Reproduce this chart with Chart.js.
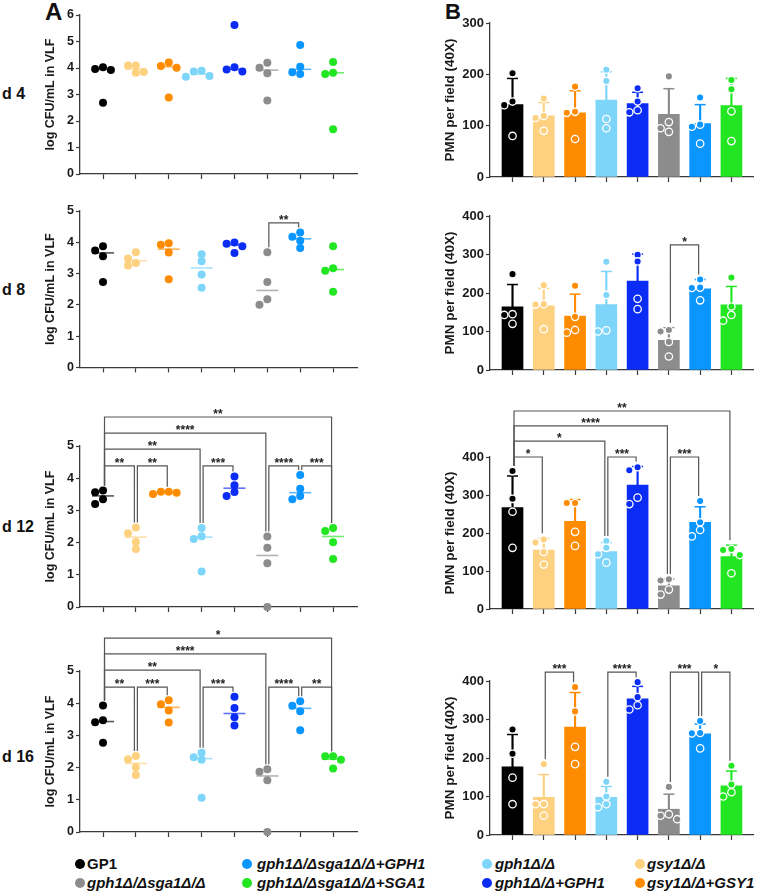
<!DOCTYPE html>
<html>
<head>
<meta charset="utf-8">
<script src="https://cdn.jsdelivr.net/npm/chart.js@4.4.0/dist/chart.umd.min.js"></script>
<style>
  body { margin: 0; width: 760px; height: 892px; position: relative; overflow: hidden; background: #fff;
         font-family: 'Liberation Sans', Arial, sans-serif; color: #111; }
  canvas { position: absolute; }
  .lbl { position: absolute; font-weight: bold; white-space: nowrap; }
  .day { font-size: 16px; line-height: 16px; }
  .leg { position: absolute; font-size: 15px; line-height: 18px; font-weight: bold; font-style: italic; white-space: nowrap; }
  .dot { position: absolute; width: 10px; height: 10px; border-radius: 50%; }
</style>
</head>
<body>
<div class="lbl" style="left:45px;top:0;font-size:24px;line-height:24px">A</div>
<div class="lbl" style="left:445px;top:1px;font-size:22px;line-height:22px">B</div>
<div class="lbl day" style="left:2px;top:86px">d 4</div>
<div class="lbl day" style="left:2px;top:282px">d 8</div>
<div class="lbl day" style="left:2px;top:519px">d 12</div>
<div class="lbl day" style="left:2px;top:749px">d 16</div>

<canvas id="a4"></canvas><canvas id="a8"></canvas><canvas id="a12"></canvas><canvas id="a16"></canvas>
<canvas id="b4"></canvas><canvas id="b8"></canvas><canvas id="b12"></canvas><canvas id="b16"></canvas>
<div id="legend"></div>

<script>
// strains, in plotting order
const groups = ['GP1', 'gsy1Δ/Δ', 'gsy1Δ/Δ+GSY1', 'gph1Δ/Δ', 'gph1Δ/Δ+GPH1',
                'gph1Δ/Δsga1Δ/Δ', 'gph1Δ/Δsga1Δ/Δ+GPH1', 'gph1Δ/Δsga1Δ/Δ+SGA1'];
const colors = ['#000000', '#fdd17f', '#ff8c00', '#7dd5fa', '#0a2cf5', '#8c8c8c', '#0a95ff', '#22e622'];

// A. log CFU/mL in VLF (4 mice per strain) and medians
const cfuD4 = [[4.03, 3.92, 3.96, 2.69], [4.09, 4.09, 3.82, 3.85], [4.21, 4.01, 4.08, 2.89], [3.9, 3.87, 3.7, 3.67],
               [5.62, 4.03, 3.87, 3.94], [4.01, 4.2, 3.8, 2.77], [4.87, 4.05, 3.77, 3.84], [4.23, 3.82, 3.77, 1.69]];
const medD4 = [3.95, 3.96, 4.05, 3.77, 3.95, 3.92, 3.95, 3.82];
const cfuD8 = [[3.74, 3.87, 3.55, 2.73], [3.48, 3.68, 3.26, 3.34], [3.92, 3.97, 3.67, 2.82], [3.62, 3.39, 2.97, 2.55],
               [3.99, 3.87, 3.95, 3.66], [3.68, 2.73, 2.18, 2.0], [4.18, 4.31, 4.05, 3.82], [3.87, 3.17, 3.09, 2.42]];
const medD8 = [3.66, 3.41, 3.78, 3.18, 3.92, 2.46, 4.11, 3.13];
const cfuD12 = [[3.56, 3.62, 3.2, 3.35], [2.29, 2.47, 2.02, 1.8], [3.51, 3.58, 3.55, 3.58], [2.45, 2.2, 2.11, 1.1],
                [4.05, 3.78, 3.45, 3.57], [2.19, 1.84, 1.36, 0], [4.1, 3.67, 3.35, 3.45], [2.36, 2.45, 2.01, 1.49]];
const medD12 = [3.45, 2.17, 3.55, 2.17, 3.69, 1.6, 3.55, 2.19];
const cfuD16 = [[3.93, 3.47, 3.41, 2.77], [2.26, 2.36, 2.01, 1.77], [3.97, 4.09, 3.77, 3.4], [2.32, 2.46, 2.24, 1.06],
                [4.2, 3.85, 3.56, 3.31], [1.87, 1.95, 1.61, 0], [3.92, 4.06, 3.75, 3.16], [2.35, 2.35, 2.24, 1.97]];
const medD16 = [3.43, 2.13, 3.87, 2.28, 3.68, 1.74, 3.84, 2.26];

// B. PMN per field (40X): points, mean bar, top of SD bar
const pmnD4 = [[202, 147, 140, 80], [153, 119, 115, 90], [176, 127, 125, 74], [209, 187, 113, 95],
               [173, 147, 130, 126], [196, 107, 95, 88], [155, 102, 98, 65], [189, 171, 128, 70]];
const meanD4 = [141, 119, 125, 150, 143, 122, 104, 139];
const sdTopD4 = [192, 145, 168, 205, 165, 172, 141, 192];
const pmnD8 = [[249, 145, 143, 120], [220, 171, 170, 106], [219, 138, 104, 97], [281, 195, 103, 100],
               [299, 282, 185, 158], [104, 100, 73, 35], [235, 214, 213, 181], [240, 165, 143, 128]];
const meanD8 = [164, 167, 140, 170, 231, 77, 211, 169];
const sdTopD8 = [222, 212, 197, 256, 301, 110, 235, 217];
const pmnD12 = [[363, 290, 256, 161], [183, 175, 150, 117], [279, 279, 203, 166], [179, 161, 144, 122],
                [373, 365, 293, 276], [78, 75, 51, 38], [284, 228, 208, 191], [155, 158, 142, 94]];
const meanD12 = [267, 155, 231, 151, 326, 61, 228, 138];
const sdTopD12 = [350, 186, 288, 175, 375, 79, 269, 168];
const pmnD16 = [[274, 211, 149, 80], [184, 80, 80, 50], [384, 321, 229, 184], [138, 100, 80, 72],
                [397, 358, 337, 326], [125, 54, 50, 41], [296, 265, 264, 225], [180, 131, 111, 100]];
const meanD16 = [177, 98, 280, 98, 354, 67, 263, 128];
const sdTopD16 = [261, 157, 370, 126, 386, 106, 288, 166];

// significance brackets: [from, to, level, label]
const sigD8L = [[5, 6, 4.62, '**']];
const sigD12L = [[0, 1, 4.38, '**'], [1, 2, 4.38, '**'], [3, 4, 4.38, '***'], [5, 6, 4.38, '****'], [6, 7, 4.38, '***'],
                 [0, 3, 4.9, '**'], [0, 5, 5.4, '****'], [0, 7, 5.9, '**']];
const sigD16L = [[0, 1, 4.5, '**'], [1, 2, 4.5, '***'], [3, 4, 4.5, '***'], [5, 6, 4.5, '****'], [6, 7, 4.5, '**'],
                 [0, 3, 5.03, '**'], [0, 5, 5.53, '****'], [0, 7, 6.02, '*']];
const sigD8R = [[5, 6, 325, '*']];
const sigD12R = [[0, 1, 400, '*'], [3, 4, 400, '***'], [5, 6, 400, '***'], [0, 3, 442, '*'], [0, 5, 482, '****'], [0, 7, 521, '**']];
const sigD16R = [[1, 2, 423, '***'], [3, 4, 423, '****'], [5, 6, 423, '***'], [6, 7, 423, '*']];

const legendSlots = [[0, 6, 3, 1], [5, 7, 4, 2]];

const FONT = "'Liberation Sans', Arial, sans-serif";
const axisCol = '#3a3a3a';

// brackets drawn from the chart scales
const bracketPlugin = {
  id: 'brackets',
  afterDatasetsDraw(chart, args, opts) {
    if (!opts.list || !opts.list.length) return;
    const {ctx, scales: {x, y}} = chart;
    ctx.save();
    ctx.strokeStyle = '#555';
    ctx.lineWidth = 1.2;
    ctx.fillStyle = '#222';
    ctx.font = 'bold 12px ' + FONT;
    ctx.textAlign = 'center';
    ctx.textBaseline = 'alphabetic';
    opts.list.forEach(([a, b, lvl, txt]) => {
      const xa = x.getPixelForValue(a) + 1.5;
      const xb = x.getPixelForValue(b) - 1.5;
      const yl = y.getPixelForValue(lvl);
      const ya = y.getPixelForValue(opts.tops[a]) - 5;
      const yb = y.getPixelForValue(opts.tops[b]) - 5;
      ctx.beginPath();
      ctx.moveTo(xa, ya); ctx.lineTo(xa, yl); ctx.lineTo(xb, yl); ctx.lineTo(xb, yb);
      ctx.stroke();
      ctx.fillText(txt, (xa + xb) / 2, yl + 1);
    });
    ctx.restore();
  }
};

// simple beeswarm so that close values sit side by side
function swarm(sets, pxPerY, stepX, stepPx, minDist) {
  const pts = [], cols = [];
  sets.forEach((vals, g) => {
    const placed = [];
    vals.slice().sort((a, b) => b - a).forEach(v => {
      const k = [0, -1, 1, -2, 2, -3, 3].find(k =>
        placed.every(p => Math.hypot((p.k - k) * stepPx, (p.v - v) * pxPerY) >= minDist));
      placed.push({k, v});
    });
    placed.forEach(p => { pts.push({x: g + p.k * stepX, y: p.v}); cols.push(colors[g]); });
  });
  return {pts, cols};
}

function build(p, type, datasets, c) {
  const cv = document.getElementById(p.id);
  cv.width = p.box.w; cv.height = p.box.h;
  cv.style.left = p.box.x + 'px'; cv.style.top = p.box.y + 'px';
  const xAxisH = 6;
  const tl = c.titleCx - c.titleSize * 0.6;
  new Chart(cv, {
    type,
    data: {datasets},
    options: {
      responsive: false, animation: false, events: [],
      layout: {padding: {left: tl - p.box.x, right: p.box.x + p.box.w - p.plot.r,
                         top: p.plot.t - p.box.y, bottom: p.box.y + p.box.h - p.plot.b - xAxisH}},
      plugins: {legend: {display: false}, tooltip: {enabled: false},
                brackets: {list: p.sig, tops: c.tops}},
      scales: {
        x: {type: 'linear', min: c.xMin, max: c.xMax, offset: false,
            afterBuildTicks: s => { s.ticks = groups.map((_, i) => ({value: i})); },
            afterFit: s => { s.height = xAxisH; },
            ticks: {display: false},
            grid: {offset: false, drawOnChartArea: false, tickLength: 5, tickColor: axisCol, tickWidth: 1.2},
            border: {color: axisCol, width: 1.3}},
        y: {min: 0, max: p.yMax, beginAtZero: true,
            afterFit: s => { s.width = p.plot.l - tl; },
            ticks: {stepSize: c.yStep, padding: 2, color: '#1a1a1a', font: {family: FONT, size: c.tickSize, weight: 'bold'}},
            grid: {drawOnChartArea: false, tickLength: 4, tickColor: axisCol, tickWidth: 1.2},
            border: {color: axisCol, width: 1.3},
            title: {display: true, text: c.title, padding: 0, color: '#1a1a1a',
                    font: {family: FONT, size: c.titleSize, weight: 'bold'}}}
      }
    },
    plugins: [bracketPlugin]
  });
}

// ---- A: scatter with medians
const leftPanels = [
  {id: 'a4', box: {x: 0, y: 0, w: 370, h: 190}, plot: {l: 80, t: 15, r: 362, b: 174}, yMax: 6, vals: cfuD4, med: medD4, sig: []},
  {id: 'a8', box: {x: 0, y: 190, w: 370, h: 190}, plot: {l: 80, t: 211, r: 362, b: 369}, yMax: 5, vals: cfuD8, med: medD8, sig: sigD8L},
  {id: 'a12', box: {x: 0, y: 390, w: 370, h: 230}, plot: {l: 80, t: 446, r: 362, b: 607}, yMax: 5, vals: cfuD12, med: medD12, sig: sigD12L},
  {id: 'a16', box: {x: 0, y: 620, w: 370, h: 230}, plot: {l: 80, t: 671, r: 362, b: 832}, yMax: 5, vals: cfuD16, med: medD16, sig: sigD16L}
];
leftPanels.forEach(p => {
  const xMin = -0.7, xMax = 7.74;
  const pxX = (p.plot.r - p.plot.l) / (xMax - xMin);
  const pxY = (p.plot.b - p.plot.t) / p.yMax;
  const sw = swarm(p.vals, pxY, 8 / pxX, 8, 6.5);
  build(p, 'scatter', [
    {type: 'scatter', data: sw.pts, pointRadius: 4, pointBackgroundColor: sw.cols, pointBorderWidth: 0, clip: false, order: 0},
    {type: 'scatter', data: p.med.map((v, i) => ({x: i, y: v})), pointStyle: 'line', pointRadius: 11,
     pointBorderColor: colors.map(c => c + 'aa'), pointBorderWidth: 1.6, clip: false, order: 1}
  ], {xMin, xMax, yStep: 1, tickSize: 12.5, title: 'log CFU/mL in VLF', titleSize: 12.5, titleCx: 51,
      tops: p.vals.map(v => Math.max(...v))});
});

// ---- B: mean bars + SD + points
const rightPanels = [
  {id: 'b4', box: {x: 380, y: 0, w: 380, h: 190}, plot: {l: 490, t: 23, r: 759, b: 177}, yMax: 300, vals: pmnD4, mean: meanD4, sd: sdTopD4, sig: []},
  {id: 'b8', box: {x: 380, y: 190, w: 380, h: 190}, plot: {l: 490, t: 216, r: 759, b: 370}, yMax: 400, vals: pmnD8, mean: meanD8, sd: sdTopD8, sig: sigD8R},
  {id: 'b12', box: {x: 380, y: 390, w: 380, h: 230}, plot: {l: 490, t: 457, r: 759, b: 609}, yMax: 400, vals: pmnD12, mean: meanD12, sd: sdTopD12, sig: sigD12R},
  {id: 'b16', box: {x: 380, y: 620, w: 380, h: 230}, plot: {l: 490, t: 681, r: 759, b: 835}, yMax: 400, vals: pmnD16, mean: meanD16, sd: sdTopD16, sig: sigD16R}
];
rightPanels.forEach(p => {
  const xMin = -0.72, xMax = 7.69;
  const pxX = (p.plot.r - p.plot.l) / (xMax - xMin);
  const pxY = (p.plot.b - p.plot.t) / p.yMax;
  const sw = swarm(p.vals, pxY, 8.5 / pxX, 8.5, 6.5);
  build(p, 'bar', [
    {type: 'scatter', data: sw.pts, pointRadius: 3.7, pointBackgroundColor: sw.cols,
     pointBorderColor: '#ffffff', pointBorderWidth: 1.3, clip: false, order: 0},
    {type: 'scatter', data: p.sd.map((v, i) => ({x: i, y: v})), pointStyle: 'line', pointRadius: 5.5,
     pointBorderColor: colors, pointBorderWidth: 1.5, clip: false, order: 1},
    {type: 'bar', data: p.mean.map((v, i) => ({x: i, y: [v, p.sd[i]]})), backgroundColor: colors,
     barThickness: 1.5, grouped: false, borderWidth: 0, order: 2},
    {type: 'bar', data: p.mean.map((v, i) => ({x: i, y: v})), backgroundColor: colors,
     barThickness: 21, grouped: false, borderWidth: 0, order: 3}
  ], {xMin, xMax, yStep: 100, tickSize: 13, title: 'PMN per field (40X)', titleSize: 13.5, titleCx: 450.5,
      tops: p.vals.map((v, i) => Math.max(p.sd[i], ...v))});
});

// ---- shared legend
const legend = document.getElementById('legend');
const colDot = [79.5, 246.5, 486.5, 639.5], colText = [87, 257, 495, 647], rowY = [864, 883];
legendSlots.forEach((row, r) => row.forEach((g, c) => {
  const d = document.createElement('div');
  d.className = 'dot';
  d.style.left = (colDot[c] - 5) + 'px'; d.style.top = (rowY[r] - 5) + 'px';
  d.style.background = colors[g];
  legend.appendChild(d);
  const t = document.createElement('div');
  t.className = 'leg';
  t.textContent = groups[g];
  if (g === 0) t.style.fontStyle = 'normal';
  t.style.left = colText[c] + 'px'; t.style.top = (rowY[r] - 9) + 'px';
  legend.appendChild(t);
}));
</script>
</body>
</html>
